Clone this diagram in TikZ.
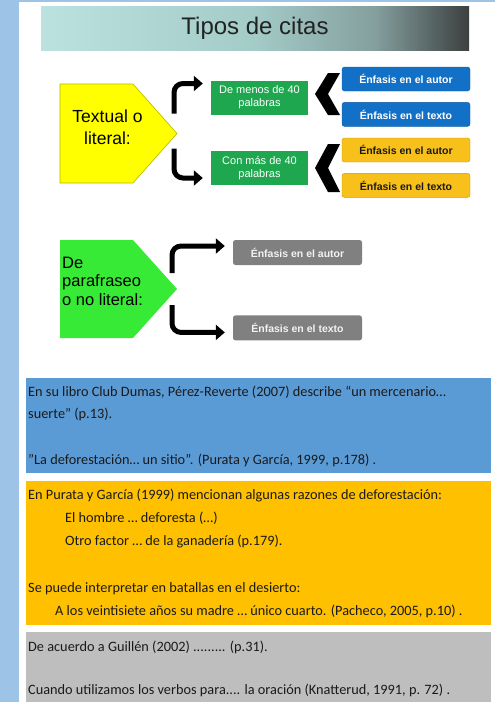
\documentclass[tikz,border=0pt]{standalone}
\usepackage{fontspec}
\setmainfont{Carlito}
\newfontfamily\arialfont{Liberation Sans}
\usetikzlibrary{positioning,arrows.meta,calc}
\definecolor{cStrip}{HTML}{9DC3E6}
\definecolor{cInk}{HTML}{1A1A1A}
\definecolor{cTitle}{HTML}{222222}
\definecolor{cTealL}{HTML}{BCE2DF}
\definecolor{cTealM}{HTML}{A3CBC8}
\definecolor{cTealN}{HTML}{849F9E}
\definecolor{cTealD}{HTML}{3C4040}
\definecolor{cYellow}{HTML}{FFFF00}
\definecolor{cYelEdge}{HTML}{B5B500}
\definecolor{cLime}{HTML}{36EA36}
\definecolor{cGreen}{HTML}{1FA74F}
\definecolor{cBlueTag}{HTML}{1271C6}
\definecolor{cBlueEdge}{HTML}{0E5CA3}
\definecolor{cGoldTag}{HTML}{F7C01A}
\definecolor{cGoldEdge}{HTML}{C99A10}
\definecolor{cGrayTag}{HTML}{808080}
\definecolor{cPale}{HTML}{F2F2F2}
\definecolor{cBluePane}{HTML}{5B9BD5}
\definecolor{cGoldPane}{HTML}{FFC000}
\definecolor{cGrayPane}{HTML}{BEBEBE}
\pgfdeclarehorizontalshading{banner}{100bp}{color(0bp)=(cTealL); color(25bp)=(cTealL);
  color(50bp)=(cTealM); color(64bp)=(cTealN); color(75bp)=(cTealD); color(100bp)=(cTealD)}

\begin{document}
\begin{tikzpicture}[x=1pt,y=-1pt,
    tag/.style={rounded corners=2.5pt,minimum width=128pt,minimum height=24pt,inner sep=0pt,
                font=\arialfont\bfseries\fontsize{10.5}{12}\selectfont},
    grn/.style={fill=cGreen,text=white,minimum width=97pt,minimum height=34pt,inner sep=0pt,
                align=center,font=\arialfont\fontsize{11}{13}\selectfont},
    brk/.style={line width=5pt,rounded corners=9pt,-{Triangle[length=9pt,width=15pt]}},
    chev/.style={fill=black},
    pane/.style={anchor=north west,minimum width=465pt,inner sep=0pt},
    ln/.style={anchor=base west,inner sep=0pt,text=cInk,font=\fontsize{14.3}{17}\selectfont}]
  \useasboundingbox (0,0) rectangle (495,702);
  \fill[cStrip] (0,0) rectangle (19,702);
  \fill[cStrip] (0,0) rectangle (495,1.5);
  % title
  \node[shading=banner,minimum width=428pt,minimum height=44pt,inner sep=0pt,
        font=\arialfont\fontsize{24}{28}\selectfont,text=cTitle] (ttl) at (255,28) {Tipos de citas};
  % textual o literal
  \fill[cYellow,draw=cYelEdge,line width=0.6pt] (60,84) -- (133,84) -- (177,133.5) -- (133,183) -- (60,183) -- cycle;
  \coordinate (tl-tip) at (177,133.5);
  \node[font=\arialfont\fontsize{17.5}{22}\selectfont,align=center] (tl) at (107.5,127) {Textual o\\literal:};
  \node[grn] (dm) at (259.5,97.5) {De menos de 40\\palabras};
  \node[grn] (cm) at (259.5,168) {Con más de 40\\palabras};
  \draw[brk] ($(tl-tip)+(-3,-20)$) |- ($(dm.west)+(-8,-14)$);
  \draw[brk] ($(tl-tip)+(-3,15)$) |- ($(cm.west)+(-8,10)$);
  \node[tag,fill=cBlueTag,draw=cBlueEdge,text=white] (ea1) at (406,79) {Énfasis en el autor};
  \node[tag,fill=cBlueTag,draw=cBlueEdge,text=white,below=11pt of ea1] (et1) {Énfasis en el texto};
  \node[tag,fill=cGoldTag,draw=cGoldEdge,text=cInk] (ea2) at (406,150) {Énfasis en el autor};
  \node[tag,fill=cGoldTag,draw=cGoldEdge,text=cInk,below=11pt of ea2] (et2) {Énfasis en el texto};
  \fill[chev,shift={(315,94)}] (25,-21) -- (13,-21) -- (0,0) -- (13,21) -- (25,21) -- (13,0) -- cycle;
  \fill[chev,shift={(315,168)}] (25,-24) -- (13,-24) -- (0,0) -- (13,24) -- (25,24) -- (13,0) -- cycle;
  % de parafraseo
  \fill[cLime] (60,240) -- (133,240) -- (177,289) -- (133,338) -- (60,338) -- cycle;
  \coordinate (pf-tip) at (177,289);
  \node[anchor=west,align=left,inner sep=0pt,font=\arialfont\fontsize{16.5}{18.5}\selectfont] (pf) at (62,281) {De\\parafraseo\\o no literal:};
  \node[tag,fill=cGrayTag,text=cPale,minimum width=129pt,minimum height=25pt] (ea3) at (297.5,252.5) {Énfasis en el autor};
  \node[tag,fill=cGrayTag,text=cPale,minimum width=129pt,minimum height=25pt,below=50pt of ea3] (et3) {Énfasis en el texto};
  \draw[brk] ($(pf-tip)+(-5,-16)$) |- ($(ea3.west)+(-8,-6.5)$);
  \draw[brk] ($(pf-tip)+(-5,16)$) |- ($(et3.west)+(-8,4.5)$);
  % ejemplos
  \node[pane,fill=cBluePane,minimum height=95pt] (p1) at (26,378) {};
  \node[pane,fill=cGoldPane,minimum height=144pt] (p2) at (26,481) {};
  \node[pane,fill=cGrayPane,minimum height=75pt] (p3) at (26,632) {};
  \node[ln] (q1) at (28,396) {En su libro Club Dumas, Pérez-Reverte (2007) describe “un mercenario…};
  \node[ln] (q2) at (28,418) {suerte” (p.13).};
  \node[ln] (q3) at (28,464) {”La deforestación… un sitio”. (Purata y García, 1999, p.178) .};
  \node[ln] (q4) at (28,499) {En Purata y García (1999) mencionan algunas razones de deforestación:};
  \node[ln] (q5) at (65,522) {El hombre … deforesta (…)};
  \node[ln] (q6) at (65,545) {Otro factor … de la ganadería (p.179).};
  \node[ln] (q7) at (28,592) {Se puede interpretar en batallas en el desierto:};
  \node[ln] (q8) at (55,615) {A los veintisiete años su madre … único cuarto. (Pacheco, 2005, p.10) .};
  \node[ln] (q9) at (28,651) {De acuerdo a Guillén (2002) ......... (p.31).};
  \node[ln] (q10) at (28,694) {Cuando utilizamos los verbos para.... la oración (Knatterud, 1991, p. 72) .};
\end{tikzpicture}
\end{document}
